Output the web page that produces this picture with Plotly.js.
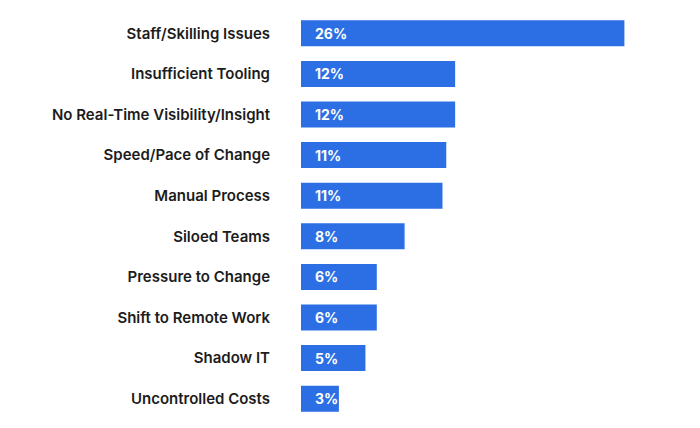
<!DOCTYPE html>
<html>
<head>
<meta charset="utf-8">
<script src="https://cdn.plot.ly/plotly-3.0.1.min.js"></script>
<style>
  html, body { margin: 0; padding: 0; background: #fff; }
  #chart { width: 700px; height: 428px; }
</style>
</head>
<body>
<div id="chart"></div>
<script>
// Categories, top to bottom
const categories = [
  "Staff/Skilling Issues",
  "Insufficient Tooling",
  "No Real-Time Visibility/Insight",
  "Speed/Pace of Change",
  "Manual Process",
  "Siloed Teams",
  "Pressure to Change",
  "Shift to Remote Work",
  "Shadow IT",
  "Uncontrolled Costs"
];
// Share of respondents (%)
const shares = [25.6, 12.2, 12.2, 11.5, 11.2, 8.2, 6.0, 6.0, 5.1, 3.0];
// Labels printed inside the bars
const shareLabels = ["26%", "12%", "12%", "11%", "11%", "8%", "6%", "6%", "5%", "3%"];

const barColor = "#2c6fe4";

const barTrace = {
  type: "bar",
  orientation: "h",
  x: shares,
  y: categories,
  marker: { color: barColor },
  hoverinfo: "skip"
};

// value labels, a little in from the left end of each bar
const valueNotes = categories.map((c, i) => ({
  x: 0,
  y: c,
  xref: "x",
  yref: "y",
  text: shareLabels[i],
  showarrow: false,
  xanchor: "left",
  xshift: 12,
  font: { family: "Inter, 'Open Sans', sans-serif", size: 14, color: "#ffffff", weight: 700 }
}));

const layout = {
  width: 700,
  height: 428,
  margin: { l: 301, r: 20, t: 13, b: 9 },
  paper_bgcolor: "#fff",
  plot_bgcolor: "#fff",
  bargap: 0.36,
  showlegend: false,
  xaxis: {
    range: [0, 30],
    visible: false,
    fixedrange: true
  },
  yaxis: {
    autorange: "reversed",
    showgrid: false,
    zeroline: false,
    showline: false,
    ticks: "",
    ticklabelstandoff: 30,
    tickfont: { family: "Inter, 'Open Sans', sans-serif", size: 15, color: "#1c1c1c", weight: 600 },
    fixedrange: true
  },
  annotations: valueNotes
};

Plotly.newPlot("chart", [barTrace], layout, { displayModeBar: false, staticPlot: true });
</script>
</body>
</html>
